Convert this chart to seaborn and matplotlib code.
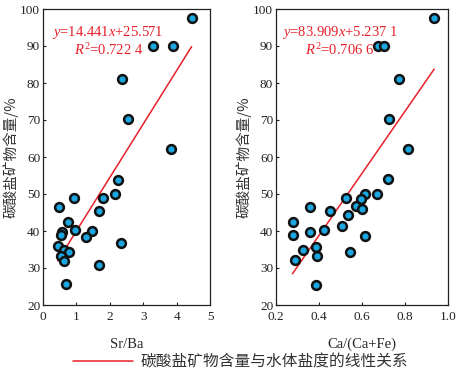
import matplotlib
matplotlib.use("Agg")
import matplotlib.pyplot as plt
import seaborn as sns
import numpy as np
import pandas as pd
from matplotlib.lines import Line2D

sns.set_theme(style="ticks")
plt.rcParams['font.family'] = ['Liberation Serif', 'Noto Sans CJK SC']
plt.rcParams['mathtext.fontset'] = 'custom'
plt.rcParams['mathtext.it'] = 'Liberation Serif:italic'
plt.rcParams['mathtext.rm'] = 'Liberation Serif'

# Left panel: Sr/Ba vs carbonate content
sr_ba = [4.45, 3.28, 3.89, 2.37, 2.54, 3.84, 2.25, 2.17, 0.93, 1.81, 0.48, 1.69,
         0.75, 0.97, 1.46, 0.56, 0.54, 1.30, 2.34, 0.44, 0.63, 0.78, 0.54, 0.63,
         1.67, 0.69]
carb_left = [97.5, 90.0, 90.0, 81.0, 70.2, 62.2, 53.7, 50.0, 48.8, 48.8, 46.6, 45.5,
             42.3, 40.3, 40.0, 39.8, 38.8, 38.5, 36.7, 35.9, 34.9, 34.4, 33.3, 32.0,
             30.8, 25.7]

# Right panel: Ca/(Ca+Fe) vs carbonate content
ca_cafe = [0.936, 0.676, 0.701, 0.771, 0.727, 0.815, 0.723, 0.671, 0.613, 0.525,
           0.594, 0.573, 0.359, 0.602, 0.452, 0.534, 0.277, 0.508, 0.424, 0.358,
           0.280, 0.615, 0.384, 0.327, 0.545, 0.390, 0.290, 0.386]
carb_right = [97.6, 90.0, 90.0, 81.1, 70.2, 62.1, 54.0, 50.1, 50.0, 48.9,
              48.7, 46.8, 46.6, 45.9, 45.3, 44.4, 42.3, 41.4, 40.2, 39.7,
              38.8, 38.6, 35.8, 34.9, 34.4, 33.3, 32.1, 25.4]

fit_left = (14.441, 25.571)
fit_right = (83.909, 5.2371)
eq_left = ["$y$=14.441$x$+25.571", "$R^2$=0.722 4"]
eq_right = ["$y$=83.909$x$+5.237 1", "$R^2$=0.706 6"]

ylabel = "碳酸盐矿物含量/%"
legend_text = "碳酸盐矿物含量与水体盐度的线性关系"

fig = plt.figure(figsize=(4.59, 3.75), dpi=100)
W, H = 459, 375
ax1 = fig.add_axes([43 / W, 1 - 305 / H, (210 - 43) / W, (305 - 9) / H])
ax2 = fig.add_axes([276 / W, 1 - 305 / H, (448 - 276) / W, (305 - 9) / H])

red = "#e8202a"
pt = "#1aa7e0"

def panel(ax, x, y, fit, eq, xlim, xticks, xlabel, xfmt, eqx):
    df = pd.DataFrame({"x": x, "y": y})
    xs = np.array([min(x), max(x)])
    ax.plot(xs, fit[0] * xs + fit[1], color=red, lw=1.1, zorder=2)
    sns.scatterplot(data=df, x="x", y="y", ax=ax, color=pt, edgecolor="#111111",
                    linewidth=1.8, s=40, zorder=3, legend=False)
    ax.set_xlim(*xlim)
    ax.set_ylim(20, 100)
    ax.set_xticks(xticks)
    ax.set_xticklabels([xfmt(v) for v in xticks])
    ax.set_yticks(range(20, 101, 10))
    ax.tick_params(direction="in", length=2.5, width=0.8, labelsize=9.5, pad=2,
                   colors="#222222")
    ax.tick_params(axis="x", pad=4)
    for s in ax.spines.values():
        s.set_linewidth(0.9)
        s.set_color("#222222")
    ax.set_xlabel(xlabel, fontsize=10.5, labelpad=11)
    ax.set_ylabel(ylabel, fontsize=10.5, family=['Noto Sans CJK SC'], labelpad=1,
                  color="#333333")
    ax.text(eqx, 0.919, eq[0], transform=ax.transAxes, ha="center", va="center",
            fontsize=10.5, color=red)
    ax.text(eqx, 0.861, eq[1], transform=ax.transAxes, ha="center", va="center",
            fontsize=10.5, color=red)

panel(ax1, sr_ba, carb_left, fit_left, eq_left, (0, 5), [0, 1, 2, 3, 4, 5],
      "Sr/Ba", lambda v: f"{v:d}", 0.39)
panel(ax2, ca_cafe, carb_right, fit_right, eq_right, (0.2, 1.0),
      [0.2, 0.4, 0.6, 0.8, 1.0], "Ca/(Ca+Fe)", lambda v: f"{v:.1f}", 0.37)

handle = Line2D([0], [0], color=red, lw=1.1)
leg = fig.legend([handle], [legend_text], loc="center", bbox_to_anchor=(241 / W, 1 - 362 / H),
                 frameon=False, handlelength=3.8, handletextpad=0.5,
                 prop={"family": "Noto Sans CJK SC", "size": 11.3})
for t in leg.get_texts():
    t.set_color("#333333")

fig.savefig("out.png", dpi=100)
